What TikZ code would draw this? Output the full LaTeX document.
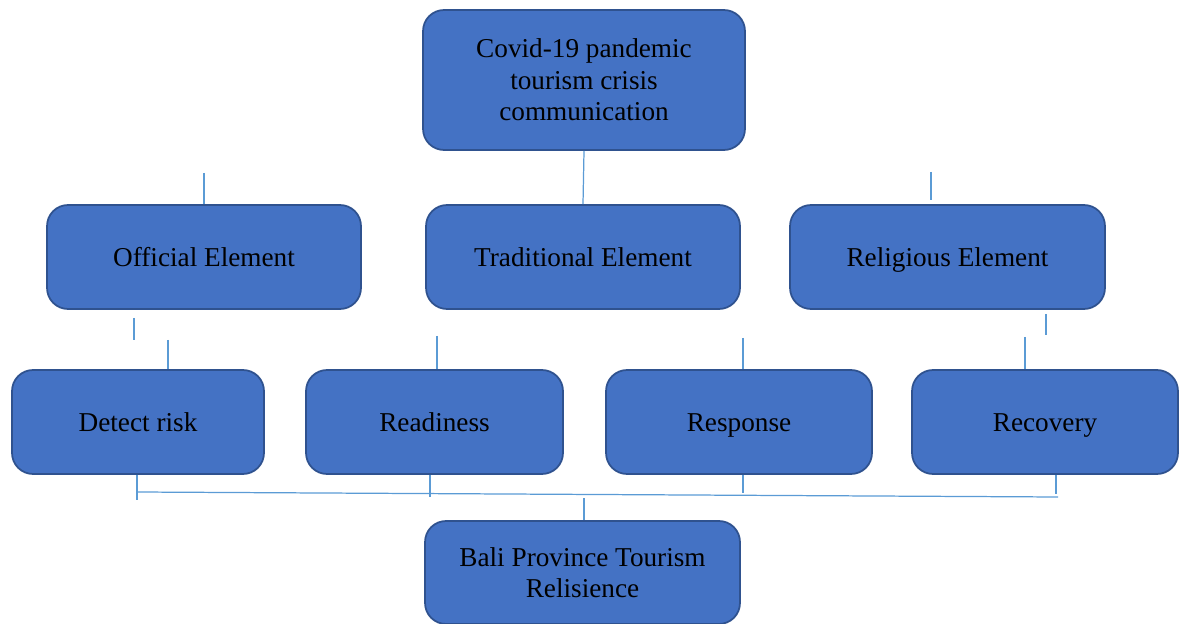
\documentclass[tikz,border=0pt]{standalone}
\usepackage{fontspec}
\setmainfont{Liberation Serif}
\usepackage{tikz}
\definecolor{boxblue}{HTML}{4472C4}
\definecolor{boxedge}{HTML}{2F528F}
\definecolor{linkblue}{HTML}{5B9BD5}
\begin{document}
\begin{tikzpicture}[x=0.02cm,y=-0.02cm,
    block/.style={draw=boxedge,line width=1pt,fill=boxblue,rounded corners=0.42cm,
                  align=center,inner sep=0pt,text=black,
                  font=\fontsize{15.5}{18}\selectfont},
    oneline/.style={block,text height=2.8ex,text depth=0.5ex},
    link/.style={draw=linkblue,line width=0.7pt}]
         \useasboundingbox (0,0) rectangle (1179,624);
         % top and middle row
         \node[block,minimum width=6.44cm,minimum height=2.8cm] (covid) at (584,80) {Covid-19 pandemic\\tourism crisis\\communication};
         \node[oneline,minimum width=6.28cm,minimum height=2.08cm] (official) at (204,257) {Official Element};
         \node[oneline,minimum width=6.28cm,minimum height=2.08cm] (traditional) at (583,257) {Traditional Element};
         \node[oneline,minimum width=6.3cm,minimum height=2.08cm] (religious) at (947.5,257) {Religious Element};
         % bottom row
         \node[oneline,minimum width=5.04cm,minimum height=2.08cm] (detect) at (138,422) {Detect risk};
         \node[oneline,minimum width=5.14cm,minimum height=2.08cm] (readiness) at (434.5,422) {Readiness};
         \node[oneline,minimum width=5.32cm,minimum height=2.08cm] (response) at (739,422) {Response};
         \node[oneline,minimum width=5.32cm,minimum height=2.08cm] (recovery) at (1045,422) {Recovery};
         \node[block,minimum width=6.3cm,minimum height=2.06cm] (bali) at (582.5,572.5) {Bali Province Tourism\\Relisience};
         % stubs between rows
         \coordinate (offtop) at (204,173);
         \coordinate (reltop) at (931,172);
         \coordinate (reltopend) at (931,200);
         \coordinate (offlow) at (134,318);
         \coordinate (offlowend) at (134,340);
         \coordinate (detecttop) at (168,340);
         \coordinate (readytop) at (437,336);
         \coordinate (resptop) at (743,338);
         \coordinate (rellow) at (1046,314);
         \coordinate (rellowend) at (1046,335);
         \coordinate (recovtop) at (1025,337);
         \draw[link] (covid.south) -- (traditional.north);
         \draw[link] (offtop) -- (official.north);
         \draw[link] (reltop) -- (reltopend);
         \draw[link] (offlow) -- (offlowend);
         \draw[link] (detecttop) -- (detecttop |- detect.north);
         \draw[link] (readytop) -- (readytop |- readiness.north);
         \draw[link] (resptop) -- (resptop |- response.north);
         \draw[link] (rellow) -- (rellowend);
         \draw[link] (recovtop) -- (recovtop |- recovery.north);
         % bus to bali
         \coordinate (busleft) at (137,492);
         \coordinate (busright) at (1058,497);
         \coordinate (busmid) at (584,498);
         \draw[link] (busleft |- detect.south) -- (137,500);
         \draw[link] (430,0 |- readiness.south) -- (430,497);
         \draw[link] (743,0 |- response.south) -- (743,493);
         \draw[link] (1056,0 |- recovery.south) -- (1056,494);
         \draw[link] (busleft) -- (busright);
         \draw[link] (busmid) -- (busmid |- bali.north);
      \end{tikzpicture}
\end{document}
